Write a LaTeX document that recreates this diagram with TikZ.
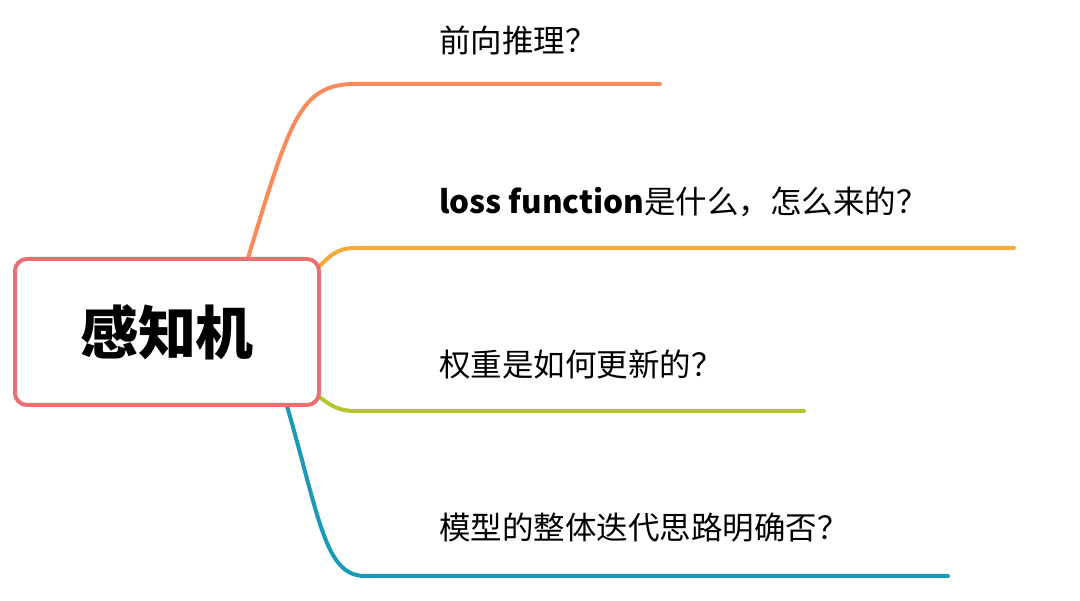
\documentclass[tikz,border=0pt]{standalone}
\usepackage{fontspec}
\setmainfont{Noto Sans CJK SC}
\definecolor{cA}{HTML}{F98B5A}
\definecolor{cB}{HTML}{F9A93A}
\definecolor{cC}{HTML}{B5C42E}
\definecolor{cD}{HTML}{1A9AB6}
\definecolor{cR}{HTML}{E9706F}
\begin{document}
\begin{tikzpicture}[x=1pt,y=-1pt,
  br/.style={line width=4pt,line cap=round},
  lbl/.style={anchor=west,inner sep=0pt,font=\fontsize{31.5}{34}\selectfont}]
\useasboundingbox (0,0) rectangle (1080,601);
\fill[white] (0,0) rectangle (1080,601);
\coordinate (e1) at (660,84);
\coordinate (e2) at (1014,248);
\coordinate (e3) at (804,411);
\coordinate (e4) at (948,576);
\draw[br,cA] (248,258) .. controls (290,120) and (300,84) .. (355,84) -- (e1);
\draw[br,cB] (318,268) .. controls (330,255) and (338,248) .. (355,248) -- (e2);
\draw[br,cC] (318,396) .. controls (330,405) and (338,411) .. (355,411) -- (e3);
\draw[br,cD] (287,406) .. controls (320,520) and (325,576) .. (365,576) -- (e4);
\node[draw=cR,line width=4pt,fill=white,rounded corners=12pt,minimum width=304pt,minimum height=146pt,
  font=\fontsize{58}{62}\selectfont\bfseries] (root) at (167,332) {感知机};
\node[lbl] (t1) at (439,40) {前向推理？};
\node[lbl] (t2) at (439,202) {\textbf{loss function}是什么，怎么来的？};
\node[lbl] (t3) at (439,365) {权重是如何更新的？};
\node[lbl] (t4) at (439,528) {模型的整体迭代思路明确否？};
\end{tikzpicture}
\end{document}
